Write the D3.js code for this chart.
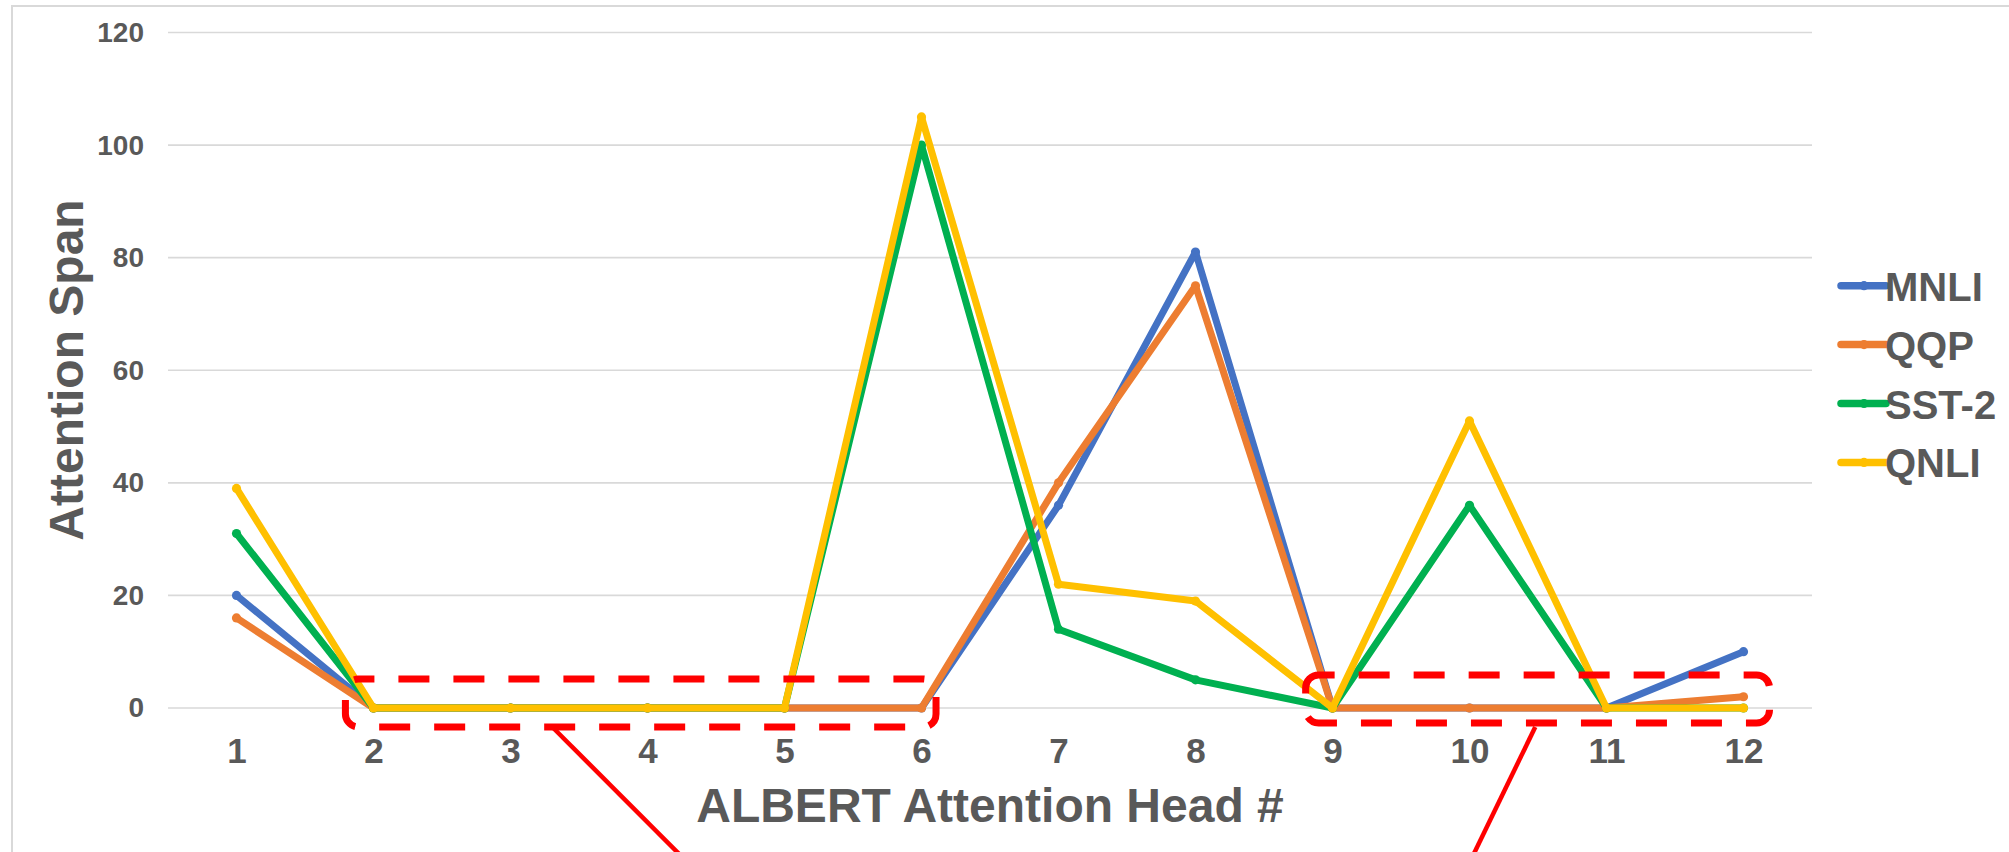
<!DOCTYPE html>
<html>
<head>
<meta charset="utf-8">
<script src="https://cdn.jsdelivr.net/npm/d3@7"></script>
<style>
  html, body { margin: 0; padding: 0; background: #ffffff; }
  svg { display: block; }
</style>
</head>
<body>
<svg id="chart" width="2009" height="852"></svg>
<script>
// ---- data ----
const heads = [1, 2, 3, 4, 5, 6, 7, 8, 9, 10, 11, 12];
const seriesNames = ["MNLI", "QQP", "SST-2", "QNLI"];
const mnli = [20, 0, 0, 0, 0, 0, 36, 81, 0, 0, 0, 10];
const qqp  = [16, 0, 0, 0, 0, 0, 40, 75, 0, 0, 0, 2];
const sst2 = [31, 0, 0, 0, 0, 100, 14, 5, 0, 36, 0, 0];
const qnli = [39, 0, 0, 0, 0, 105, 22, 19, 0, 51, 0, 0];
const yTicks = [0, 20, 40, 60, 80, 100, 120];
const xTitle = "ALBERT Attention Head #";
const yTitle = "Attention Span";
// annotation boxes (in data units: head index, attention span)
const boxes = [
  { x0: 1.795, x1: 6.106, y0: 5.15, y1: -3.37 },
  { x0: 8.804, x1: 12.19, y0: 5.86, y1: -2.66 }
];
// annotation pointer lines (data units)
const pointers = [
  { xa: 3.305, ya: -3.37, xb: 4.336, yb: -28.5 },
  { xa: 10.48, ya: -3.37, xb: 9.98, yb: -28.5 }
];

// ---- styles ----
const colors = ["#4472C4", "#ED7D31", "#00B050", "#FFC000"];
const textColor = "#595959";
const gridColor = "#D9D9D9";
const font = "'Liberation Sans', Arial, sans-serif";

const svg = d3.select("#chart");
const W = 2009, H = 852;

// chart border
svg.append("rect")
  .attr("x", 12).attr("y", 6)
  .attr("width", W + 20).attr("height", H + 20)
  .attr("fill", "#ffffff")
  .attr("stroke", gridColor).attr("stroke-width", 2);

const x = d3.scalePoint().domain(heads).range([168, 1812]).padding(0.5);
const step = x.step();
const xc = v => x(1) + (v - 1) * step; // continuous positioning for annotations
const y = d3.scaleLinear().domain([0, 120]).range([708, 32.5]);

// gridlines
svg.append("g")
  .selectAll("line")
  .data(yTicks)
  .join("line")
  .attr("x1", 168).attr("x2", 1812)
  .attr("y1", d => y(d)).attr("y2", d => y(d))
  .attr("stroke", gridColor).attr("stroke-width", 1.6);

// y axis labels via d3 axis
const yAxis = svg.append("g")
  .attr("transform", "translate(168,0)")
  .call(d3.axisLeft(y).tickValues(yTicks).tickSize(0).tickPadding(24));
yAxis.select(".domain").remove();
yAxis.selectAll("text")
  .attr("fill", textColor)
  .attr("font-family", font)
  .attr("font-weight", "bold")
  .attr("font-size", 28);

// x axis labels
const xAxis = svg.append("g")
  .attr("transform", "translate(0,708)")
  .call(d3.axisBottom(x).tickSize(0).tickPadding(0));
xAxis.select(".domain").remove();
xAxis.selectAll("text")
  .attr("dy", null)
  .attr("y", 54.5)
  .attr("fill", textColor)
  .attr("font-family", font)
  .attr("font-weight", "bold")
  .attr("font-size", 35);

// axis titles
svg.append("text")
  .attr("x", 990).attr("y", 822)
  .attr("text-anchor", "middle")
  .attr("fill", textColor)
  .attr("font-family", font)
  .attr("font-weight", "bold")
  .attr("font-size", 48)
  .text(xTitle);

svg.append("text")
  .attr("transform", "translate(83,370) rotate(-90)")
  .attr("text-anchor", "middle")
  .attr("fill", textColor)
  .attr("font-family", font)
  .attr("font-weight", "bold")
  .attr("font-size", 48)
  .text(yTitle);

// series
const allSeries = [mnli, qqp, sst2, qnli];
const line = d3.line().x((d, i) => x(heads[i])).y(d => y(d));
const plot = svg.append("g");
allSeries.forEach((vals, si) => {
  const g = plot.append("g");
  g.append("path")
    .datum(vals)
    .attr("d", line)
    .attr("fill", "none")
    .attr("stroke", colors[si])
    .attr("stroke-width", 7)
    .attr("stroke-linejoin", "round")
    .attr("stroke-linecap", "round");
  g.selectAll("circle")
    .data(vals)
    .join("circle")
    .attr("cx", (d, i) => x(heads[i]))
    .attr("cy", d => y(d))
    .attr("r", 4.6)
    .attr("fill", colors[si]);
});

// legend
const legend = svg.append("g");
seriesNames.forEach((name, i) => {
  const cy = 285.7 + i * 58.9;
  legend.append("line")
    .attr("x1", 1841).attr("x2", 1886)
    .attr("y1", cy).attr("y2", cy)
    .attr("stroke", colors[i]).attr("stroke-width", 7.5)
    .attr("stroke-linecap", "round");
  legend.append("circle")
    .attr("cx", 1864).attr("cy", cy).attr("r", 4.6)
    .attr("fill", colors[i]);
  legend.append("text")
    .attr("x", 1885).attr("y", cy + 15)
    .attr("fill", textColor)
    .attr("font-family", font)
    .attr("font-weight", "bold")
    .attr("font-size", 40)
    .text(name);
});

// annotations
const ann = svg.append("g");
boxes.forEach(b => {
  const x0 = xc(b.x0), x1 = xc(b.x1), y0 = y(b.y0), y1 = y(b.y1);
  ann.append("rect")
    .attr("x", x0).attr("y", y0)
    .attr("width", x1 - x0).attr("height", y1 - y0)
    .attr("rx", 13).attr("ry", 13)
    .attr("fill", "none")
    .attr("stroke", "#FF0000")
    .attr("stroke-width", 7)
    .attr("stroke-dasharray", "31 24")
    .attr("stroke-dashoffset", 15);
});
pointers.forEach(p => {
  ann.append("line")
    .attr("x1", xc(p.xa)).attr("y1", y(p.ya))
    .attr("x2", xc(p.xb)).attr("y2", y(p.yb))
    .attr("stroke", "#FF0000")
    .attr("stroke-width", 4.5);
});
</script>
</body>
</html>
